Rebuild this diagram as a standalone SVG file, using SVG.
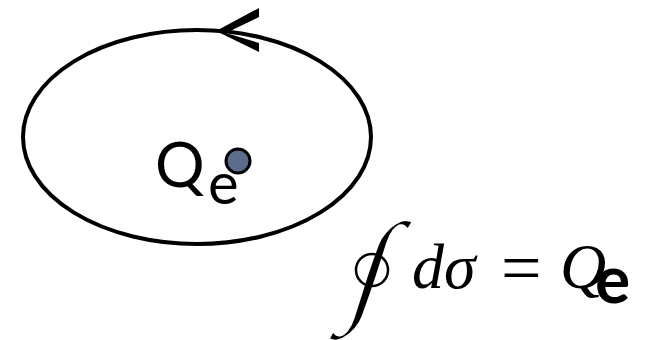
<svg xmlns="http://www.w3.org/2000/svg" width="659" height="340" viewBox="0 0 659 340">
<style>
.sans{font-family:Lato,"Open Sans","Liberation Sans",sans-serif;fill:#000}
.math{font-family:"Liberation Serif","DejaVu Serif",serif;font-style:italic;fill:#000}
</style>
<rect width="659" height="340" fill="#fff"/>
<g id="loop">
<ellipse cx="197" cy="137" rx="174" ry="107" fill="none" stroke="#000" stroke-width="4"/>
<path d="M216,31 L259,8 L259,17 L226,33 L259,43 L259,52 Z" fill="#000"/>
</g>
<g id="charge">
<text class="sans" x="155" y="187" font-size="62">Q</text>
<text class="sans" x="208" y="204" font-size="58">e</text>
<circle cx="238" cy="161" r="12" fill="#5b6d8c" stroke="#000" stroke-width="3"/>
</g>
<g id="formula">
<text class="math" x="357" y="308" font-size="124" stroke="#fff" stroke-width="3" transform="translate(372,270) skewX(-18) translate(-372,-270)">∫</text>
<circle cx="372" cy="270" r="16" fill="none" stroke="#000" stroke-width="2.5"/>
<text class="math" x="412" y="288" font-size="64">dσ</text>
<text x="501" y="292" font-size="72" font-family="Liberation Serif,serif">=</text>
<text class="math" x="560" y="288" font-size="64">Q</text>
<text x="595" y="303" font-size="66" font-family="Lato,sans-serif" font-weight="bold">e</text>
</g>
</svg>
